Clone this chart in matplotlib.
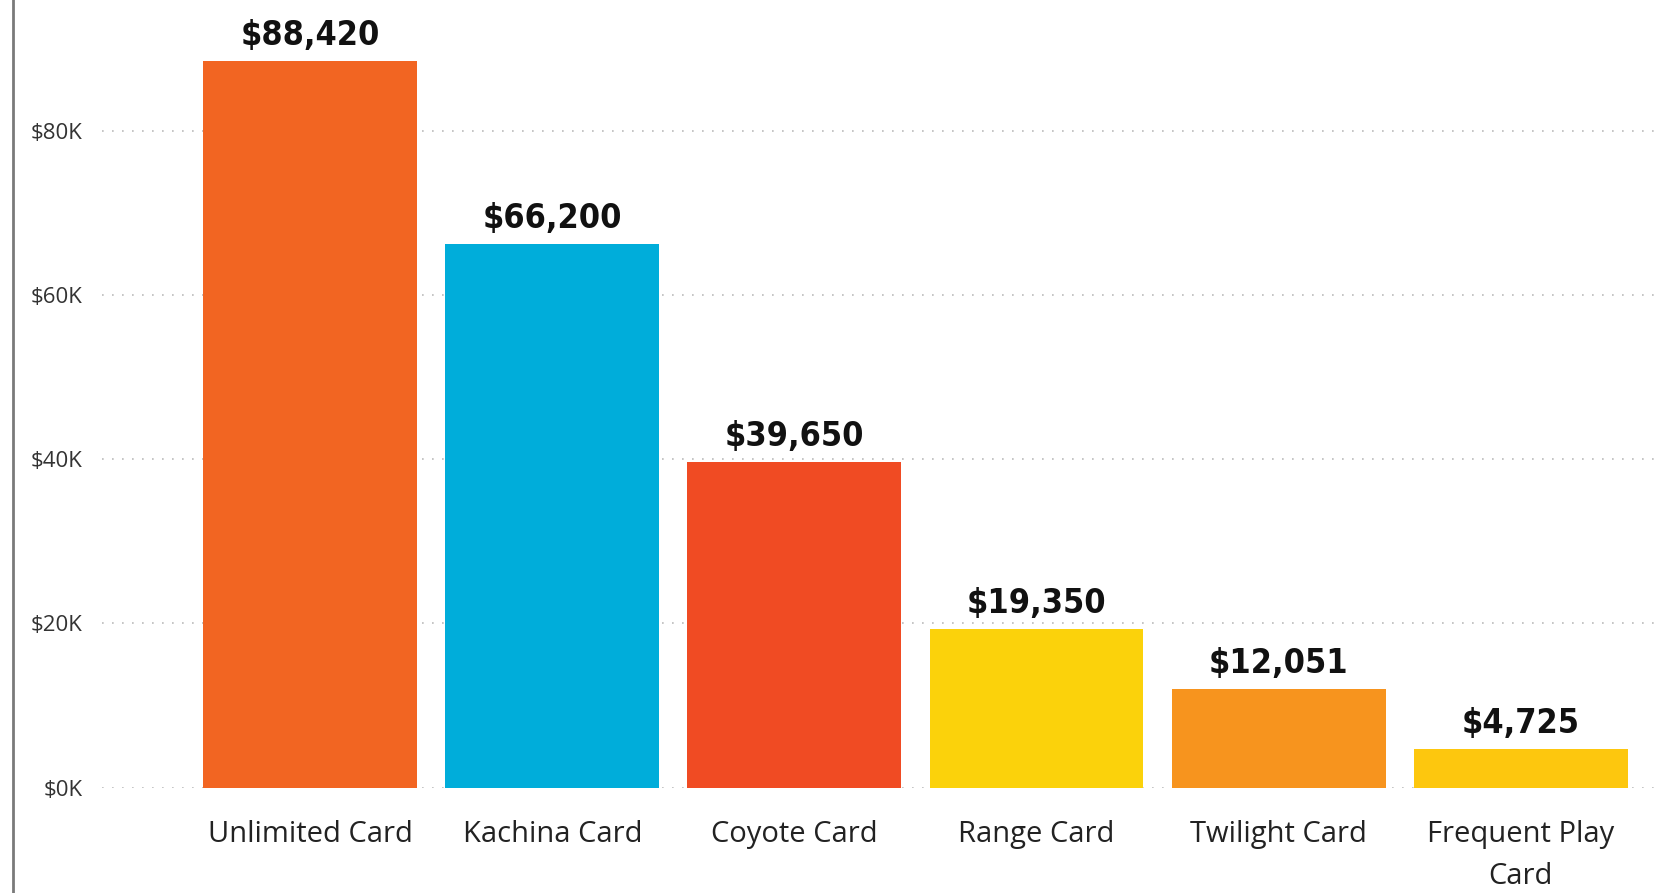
import matplotlib
matplotlib.use('Agg')
import matplotlib.pyplot as plt
from matplotlib import font_manager
from matplotlib.lines import Line2D
from matplotlib.ticker import FuncFormatter

# data
cards = ['Unlimited Card', 'Kachina Card', 'Coyote Card', 'Range Card',
         'Twilight Card', 'Frequent Play\nCard']
revenue = [88420, 66200, 39650, 19350, 12051, 4725]
colors = ['#F26522', '#00ADDA', '#F04B23', '#FBD20B', '#F7941E', '#FDC70E']
y_ticks = [0, 20000, 40000, 60000, 80000]

# pick a narrow bold face for the value labels if one is installed
narrow = [f for f in font_manager.fontManager.ttflist
          if ('Narrow' in f.name or 'Condensed' in f.name
              or f.stretch in ('condensed', 'semi-condensed'))]
vprop = font_manager.FontProperties(family='DejaVu Sans', weight='bold',
                                    stretch='condensed', size=24)
if narrow:
    f = narrow[0]
    for cand in narrow:
        if cand.weight in ('bold', 700) and 'Sans' in cand.name:
            f = cand
            break
    vprop = font_manager.FontProperties(fname=f.fname, size=24.5)

plt.rcParams['font.family'] = ['Open Sans', 'DejaVu Sans']

fig = plt.figure(figsize=(16.62, 8.93), dpi=100)
ax = fig.add_axes([0.0615, 0.118, 0.9335, 0.882])

x = list(range(len(cards)))
ax.bar(x, revenue, width=0.884, color=colors, zorder=2)

# value labels above bars
for xi, v in zip(x, revenue):
    ax.text(xi, v + 1100, f'${v:,}', ha='center', va='bottom',
            fontproperties=vprop, color='#111111')

ax.set_xlim(-0.86, 5.55)
ax.set_ylim(0, 95900)
ax.set_yticks(y_ticks)
ax.yaxis.set_major_formatter(FuncFormatter(lambda v, p: f'${v/1000:.0f}K'))
ax.set_xticks(x)
ax.set_xticklabels(cards, fontsize=21, color='#222222', linespacing=1.6)

ax.tick_params(axis='both', length=0)
ax.tick_params(axis='y', pad=14, labelsize=16, labelcolor='#333333')
ax.tick_params(axis='x', pad=23)
ax.grid(axis='y', linestyle=(0, (1, 5)), color='#BBBBBB', linewidth=1.2, zorder=0)
for s in ax.spines.values():
    s.set_visible(False)

# grey frame line at the left edge of the image
fig.add_artist(Line2D([13 / 1662, 13 / 1662], [0, 1], color='#7A7A7A',
                      linewidth=2, transform=fig.transFigure))

fig.savefig('out.png', dpi=100)
